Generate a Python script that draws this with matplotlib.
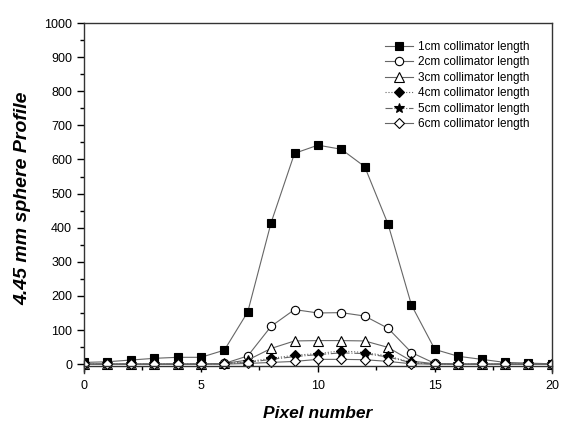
import matplotlib
matplotlib.use("Agg")
import matplotlib.pyplot as plt
from matplotlib.ticker import MultipleLocator

plt.rcParams["font.family"] = ["Liberation Sans", "DejaVu Sans"]

pixels = list(range(0, 21))
len_1cm = [5, 7, 12, 17, 20, 20, 41, 153, 415, 618, 642, 630, 579, 410, 173, 43, 23, 14, 5, 3, 1]
len_2cm = [0, 0, 0, 0, 0, 0, 2, 24, 111, 160, 150, 151, 141, 105, 34, 2, 0, 0, 0, 0, 0]
len_3cm = [0, 0, 0, 0, 0, 0, 2, 12, 46, 68, 69, 69, 68, 49, 9, 1, 0, 0, 0, 0, 0]
len_4cm = [0, 0, 0, 0, 0, 0, 1, 7, 17, 26, 31, 39, 34, 24, 5, 0, 0, 0, 0, 0, 0]
len_5cm = [0, 0, 0, 0, 0, 0, 1, 5, 14, 22, 28, 33, 31, 21, 4, 0, 0, 0, 0, 0, 0]
len_6cm = [0, 0, 0, 0, 0, 0, 0, 2, 5, 8, 14, 14, 13, 8, 1, 0, 0, 0, 0, 0, 0]
labels = ["1cm collimator length", "2cm collimator length", "3cm collimator length",
          "4cm collimator length", "5cm collimator length", "6cm collimator length"]

fig = plt.figure(figsize=(5.61, 4.23), dpi=100)
ax = fig.add_axes([0.1497, 0.119, 0.834, 0.8265])

styles = [
    dict(marker="s", mfc="black", ls="-"),
    dict(marker="o", mfc="white", ls="-"),
    dict(marker="^", mfc="white", ls="-"),
    dict(marker="D", mfc="black", ls=":"),
    dict(marker="*", mfc="black", ls="-."),
    dict(marker="D", mfc="white", ls="-"),
]
series = [len_1cm, len_2cm, len_3cm, len_4cm, len_5cm, len_6cm]
sizes = [6, 6, 6.5, 5.5, 7.5, 5.5]

for vals, lab, st, ms in zip(series, labels, styles, sizes):
    ax.plot(pixels, vals, color="0.4", lw=0.8, mec="black", mew=0.8,
            ms=ms, label=lab, **st)

ax.set_xlim(0, 20)
ax.set_ylim(-25, 1000)
ax.spines["bottom"].set_position(("data", -5))
ax.xaxis.set_major_locator(MultipleLocator(5))
ax.xaxis.set_minor_locator(MultipleLocator(2.5))
ax.yaxis.set_major_locator(MultipleLocator(100))
ax.yaxis.set_minor_locator(MultipleLocator(50))
ax.tick_params(axis="x", which="major", direction="inout", length=8, width=1, labelsize=9, pad=6)
ax.tick_params(axis="x", which="minor", direction="out", length=3, width=1)
ax.tick_params(axis="y", which="major", direction="out", length=5, width=1, labelsize=9)
ax.tick_params(axis="y", which="minor", direction="out", length=3, width=1)
for s in ax.spines.values():
    s.set_linewidth(1)
    s.set_color("0.2")

ax.set_xlabel("Pixel number", fontsize=12.5, fontweight="bold", style="italic", labelpad=10)
ax.set_ylabel("4.45 mm sphere Profile", fontsize=14, fontweight="bold", style="italic", labelpad=9)

ax.legend(loc="upper right", bbox_to_anchor=(0.975, 0.98), frameon=False, fontsize=8.5,
          handlelength=2.4, labelspacing=0.3, handletextpad=0.4)

fig.savefig("out.png", dpi=100)
